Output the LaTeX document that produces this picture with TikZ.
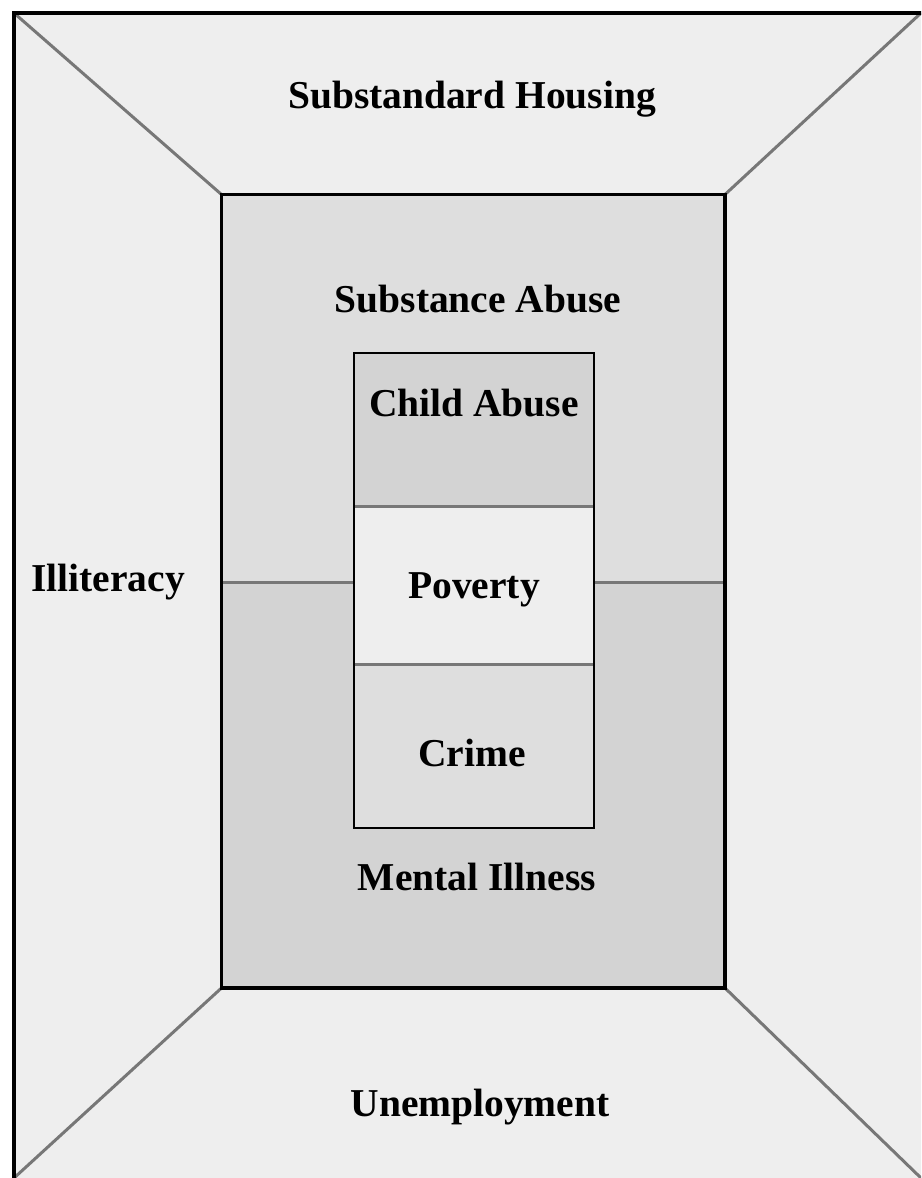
\documentclass[tikz,border=0pt]{standalone}
\usepackage{fontspec}
\setmainfont{Liberation Serif}
\definecolor{roomfill}{HTML}{EEEEEE}
\definecolor{upperfill}{HTML}{DEDEDE}
\definecolor{lowerfill}{HTML}{D3D3D3}
\definecolor{seamgray}{HTML}{777777}
\tikzset{
  label text/.style={font=\bfseries\fontsize{39.5}{42}\selectfont, anchor=base, inner sep=0pt},
  seam/.style={draw=seamgray, line width=3pt},
  frame/.style={draw=black, line width=4pt},
  wall/.style={draw=black, line width=3.6pt},
  column/.style={draw=black, line width=2pt},
}
\begin{document}
\begin{tikzpicture}[x=1pt,y=-1pt]
  \useasboundingbox (0,0) rectangle (921,1178);
  \clip (0,0) rectangle (921,1178);

  % outer corners and back wall corners
  \coordinate (otl) at (14,13);
  \coordinate (otr) at (921,13);
  \coordinate (obl) at (14,1178);
  \coordinate (obr) at (921,1178);
  \coordinate (itl) at (221.5,194.5);
  \coordinate (itr) at (725,194.5);
  \coordinate (ibl) at (221.5,988);
  \coordinate (ibr) at (725,988);
  \coordinate (iml) at (221.5,582);
  \coordinate (imr) at (725,582);

  % central column
  \coordinate (ctl) at (353.5,353);
  \coordinate (ctr) at (594,353);
  \coordinate (cbl) at (353.5,828);
  \coordinate (cbr) at (594,828);
  \coordinate (cd1l) at (353.5,506);
  \coordinate (cd1r) at (594,506);
  \coordinate (cd2l) at (353.5,664);
  \coordinate (cd2r) at (594,664);
  \coordinate (cml) at (353.5,582);
  \coordinate (cmr) at (594,582);

  % fills
  \fill[roomfill] (otl) rectangle (930,1190);
  \fill[upperfill] (itl) rectangle (imr);
  \fill[lowerfill] (iml) rectangle (ibr);
  \fill[lowerfill] (ctl) rectangle (cd1r);
  \fill[roomfill] (cd1l) rectangle (cd2r);
  \fill[upperfill] (cd2l) rectangle (cbr);

  % perspective edges
  \draw[seam] (otl) -- (itl);
  \draw[seam] (otr) -- (itr);
  \draw[seam] (obl) -- (ibl);
  \draw[seam] (obr) -- (ibr);

  % middle seam of the back wall
  \draw[seam] (iml) -- (cml);
  \draw[seam] (cmr) -- (imr);

  % column dividers and outline
  \draw[seam] (cd1l) -- (cd1r);
  \draw[seam] (cd2l) -- (cd2r);
  \draw[column] (ctl) rectangle (cbr);

  % back wall outline
  \draw[wall] (itl) rectangle (ibr);

  % room frame (top and left edges)
  \draw[frame] (930,13) -- (otl) -- (14,1190);

  % labels
  \node[label text] (housing) at (472,108) {Substandard Housing};
  \node[label text] (substance) at (478,312) {Substance Abuse};
  \node[label text] (child) at (474,416) {Child Abuse};
  \node[label text] (poverty) at (474,598) {Poverty};
  \node[label text] (illiteracy) at (108,591) {Illiteracy};
  \node[label text] (crime) at (472,766) {Crime};
  \node[label text] (mental) at (477,890) {Mental Illness};
  \node[label text] (unemployment) at (480,1116) {Unemployment};
\end{tikzpicture}
\end{document}
